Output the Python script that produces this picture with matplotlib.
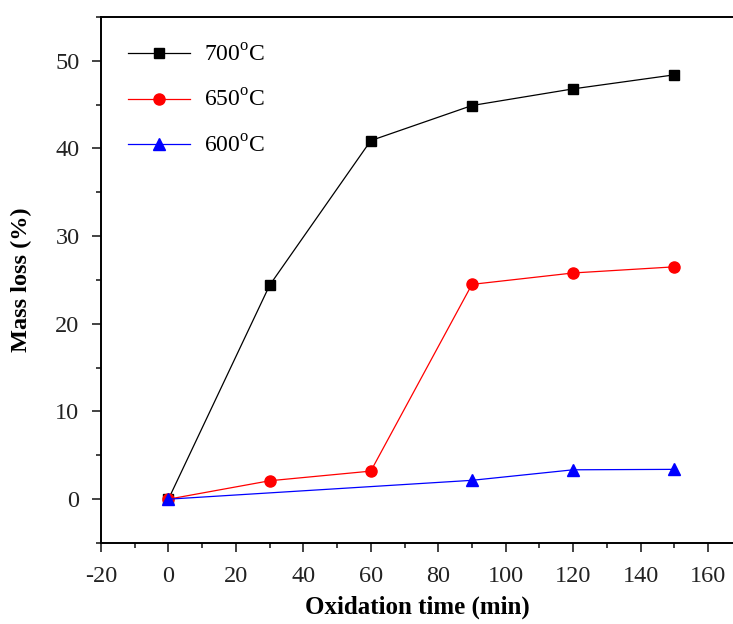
import matplotlib
matplotlib.use("Agg")
import matplotlib.pyplot as plt
from matplotlib.ticker import MultipleLocator

plt.rcParams['font.family'] = ['Liberation Serif', 'DejaVu Serif']
plt.rcParams['mathtext.fontset'] = 'custom'
plt.rcParams['mathtext.rm'] = 'Liberation Serif'
plt.rcParams['axes.unicode_minus'] = False

# oxidation time (min)
t_700 = [0, 30, 60, 90, 120, 150]
loss_700 = [0, 24.4, 40.9, 44.9, 46.8, 48.4]
t_650 = [0, 30, 60, 90, 120, 150]
loss_650 = [0, 2.1, 3.2, 24.5, 25.8, 26.5]
t_600 = [0, 90, 120, 150]
loss_600 = [0, 2.15, 3.35, 3.4]

labels = ['700$^{\\rm o}$C', '650$^{\\rm o}$C', '600$^{\\rm o}$C']

fig = plt.figure(figsize=(7.33, 6.24), dpi=100)
ax = fig.add_axes([0.1378, 0.1298, 0.8622, 0.843])

ax.plot(t_700, loss_700, color='black', lw=0.9, marker='s', ms=7, label=labels[0])
ax.plot(t_650, loss_650, color='red', lw=0.9, marker='o', ms=8, label=labels[1])
ax.plot(t_600, loss_600, color='blue', lw=0.9, marker='^', ms=8, label=labels[2])

ax.set_xlim(-20, 167.4)
ax.set_ylim(-5, 55)
ax.xaxis.set_major_locator(MultipleLocator(20))
ax.xaxis.set_minor_locator(MultipleLocator(10))
ax.yaxis.set_major_locator(MultipleLocator(10))
ax.yaxis.set_minor_locator(MultipleLocator(5))
ax.tick_params(which='both', direction='out', width=1.2, labelsize=17.5, colors='#222222')
ax.tick_params(which='major', length=6.5)
ax.tick_params(which='minor', length=3.5)
ax.tick_params(axis='y', pad=9)
ax.tick_params(axis='x', pad=10)

ax.spines['right'].set_visible(False)
for s in ['left', 'bottom', 'top']:
    ax.spines[s].set_linewidth(1.4)

ax.set_xlabel('Oxidation time (min)', fontsize=18, fontweight='bold', labelpad=6)
ax.set_ylabel('Mass loss (%)', fontsize=17.5, fontweight='bold', labelpad=17)

ax.legend(loc='upper left', frameon=False, fontsize=17, handlelength=2.6,
          labelspacing=1.0, borderaxespad=0.5, handletextpad=0.6,
          borderpad=0.65)

fig.savefig('out.png', dpi=100)
